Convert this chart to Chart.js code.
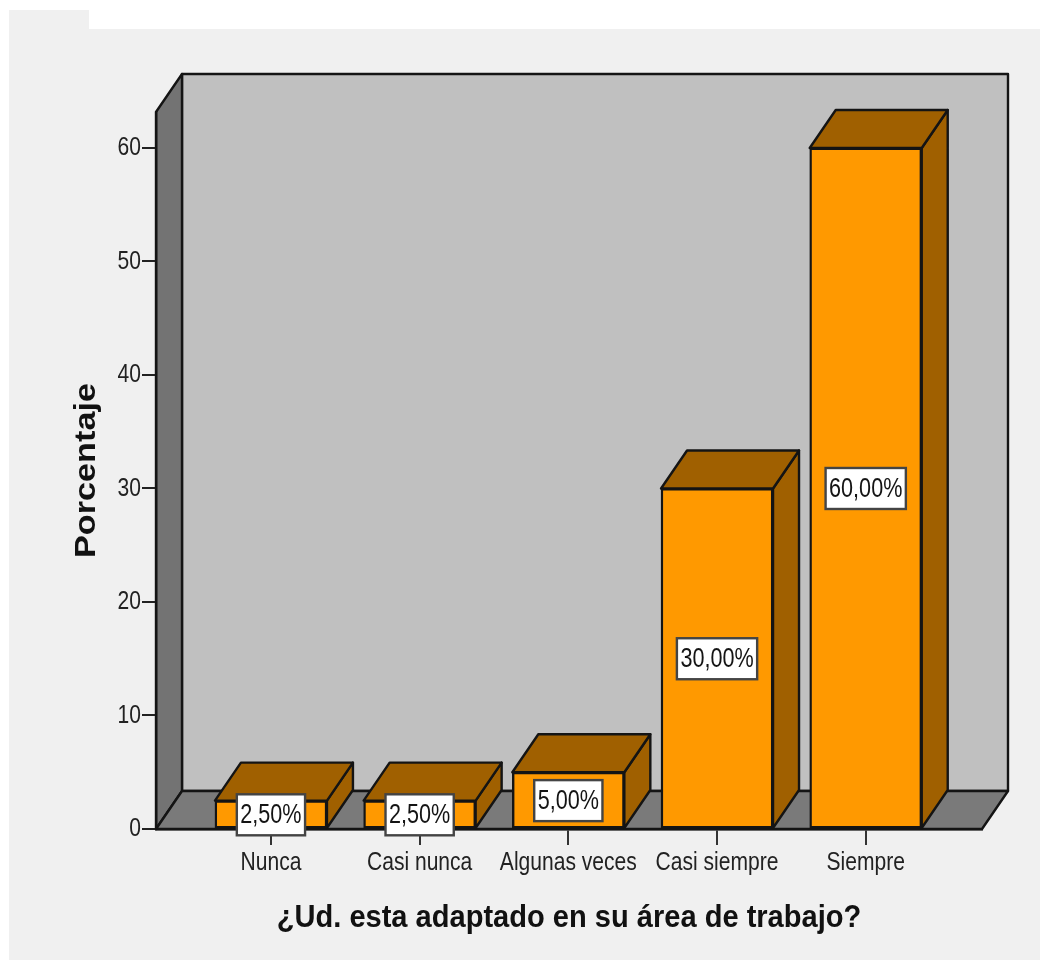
<!DOCTYPE html>
<html><head><meta charset="utf-8">
<script src="https://cdn.jsdelivr.net/npm/chart.js@4"></script>
<style>
html,body{margin:0;padding:0;background:#fff;width:1040px;height:961px;overflow:hidden}
.bg{position:absolute;background:#f0f0f0}
canvas{position:absolute;left:0;top:0}
</style></head><body>
<div class="bg" style="left:9px;top:10px;width:80px;height:20px"></div>
<div class="bg" style="left:9px;top:29px;width:1031px;height:931px"></div>
<canvas id="c" width="1040" height="961"></canvas>
<script>
const categories = ["Nunca","Casi nunca","Algunas veces","Casi siempre","Siempre"];
const percentages = [2.5,2.5,5,30,60];
const valueLabels = ["2,50%","2,50%","5,00%","30,00%","60,00%"];
const yTicks = [0,10,20,30,40,50,60];
const DX = 26, DY = -38, INK = "#141414";
const sans = '"Liberation Sans",sans-serif';
// horizontal text stretch per font size, the reference text is not set at natural width
const stretch = {26:0.81, 27:0.8, 32:0.908, 29:1.18};

const cv = document.getElementById("c");
const c2d = cv.getContext("2d");
const rawFill = c2d.fillText.bind(c2d);
c2d.fillText = function(t,x,y,m){
  const sz = parseInt((c2d.font.match(/(\d+)px/)||[])[1]);
  const k = stretch[sz]||1;
  c2d.save(); c2d.translate(x,y); c2d.scale(k,1); rawFill(t,0,0); c2d.restore();
};

function poly(ctx, pts, fill){
  ctx.beginPath();
  pts.forEach((p,i)=> i?ctx.lineTo(p[0],p[1]):ctx.moveTo(p[0],p[1]));
  ctx.closePath();
  ctx.fillStyle = fill; ctx.fill();
  ctx.strokeStyle = INK; ctx.lineWidth = 2.4; ctx.lineJoin = "round"; ctx.stroke();
}
const box3d = {
  id:"box3d",
  beforeDraw(chart){
    const {ctx, chartArea:a} = chart;
    ctx.save();
    poly(ctx,[[a.left+DX,a.top+DY],[a.right+DX,a.top+DY],[a.right+DX,a.bottom+DY],[a.left+DX,a.bottom+DY]],"#c0c0c0");
    poly(ctx,[[a.left,a.top],[a.left+DX,a.top+DY],[a.left+DX,a.bottom+DY],[a.left,a.bottom]],"#737373");
    poly(ctx,[[a.left,a.bottom],[a.left+DX,a.bottom+DY],[a.right+DX,a.bottom+DY],[a.right,a.bottom]],"#7a7a7a");
    ctx.restore();
  },
  beforeDatasetsDraw(chart){
    const {ctx} = chart;
    ctx.save();
    chart.getDatasetMeta(0).data.forEach(b=>{
      const l=b.x-b.width/2, r=b.x+b.width/2, t=b.y, bt=b.base;
      poly(ctx,[[r,t],[r+DX,t+DY],[r+DX,bt+DY],[r,bt]],"#a06000");
      poly(ctx,[[l,t],[l+DX,t+DY],[r+DX,t+DY],[r,t]],"#a06000");
    });
    ctx.restore();
  },
  afterDatasetsDraw(chart){
    const {ctx} = chart;
    ctx.save();
    chart.getDatasetMeta(0).data.forEach((b,i)=>{
      const cy=(b.y+b.base)/2+0.5, txt=valueLabels[i];
      ctx.font = '27px '+sans;
      const w = ctx.measureText(txt).width*stretch[27]+7, h=41;
      ctx.fillStyle="#fff"; ctx.strokeStyle="#444"; ctx.lineWidth=2.4;
      ctx.fillRect(b.x-w/2,cy-h/2,w,h);
      ctx.strokeRect(b.x-w/2,cy-h/2,w,h);
      ctx.fillStyle=INK; ctx.textAlign="center"; ctx.textBaseline="middle";
      ctx.fillText(txt,b.x,cy+1);
    });
    ctx.restore();
  }
};
new Chart(cv,{
  type:"bar",
  data:{
    labels:categories,
    datasets:[{
      data:percentages.map((v,i)=>({x:i,y:v})),
      backgroundColor:"#ff9900",borderColor:INK,borderWidth:2.4,borderSkipped:false,
      barThickness:112,clip:false
    }]
  },
  options:{
    responsive:false,animation:false,
    layout:{padding:{top:112,right:58,left:0,bottom:0}},
    plugins:{legend:{display:false},tooltip:{enabled:false},title:{display:false}},
    scales:{
      x:{
        type:"linear",offset:false,min:-0.773,max:4.782,
        afterBuildTicks(s){s.ticks=categories.map((_,i)=>({value:i}));},
        afterFit(s){s.height=132;},
        grid:{display:true,offset:false,drawOnChartArea:false,drawTicks:true,tickLength:16,color:"#333",lineWidth:2},
        border:{display:true,color:INK,width:2.4},
        ticks:{autoSkip:false,maxRotation:0,padding:2,color:"#222",font:{family:sans,size:26},
          callback:v=>categories[v]},
        title:{display:true,text:"¿Ud. esta adaptado en su área de trabajo?",color:"#111",
          font:{family:sans,size:32,weight:"bold"},padding:{top:0,bottom:24}}
      },
      y:{
        min:0,max:63.17,
        afterBuildTicks(s){s.ticks=yTicks.map(v=>({value:v}));},
        afterFit(s){s.width=156;},
        grid:{display:true,drawOnChartArea:false,drawTicks:true,tickLength:14,color:"#222",lineWidth:2},
        border:{display:true,color:INK,width:2.4},
        ticks:{padding:1,color:"#222",font:{family:sans,size:26}},
        title:{display:true,text:"Porcentaje",color:"#111",
          font:{family:sans,size:29,weight:"bold"},padding:{top:70,bottom:0}}
      }
    }
  },
  plugins:[box3d]
});
</script></body></html>
